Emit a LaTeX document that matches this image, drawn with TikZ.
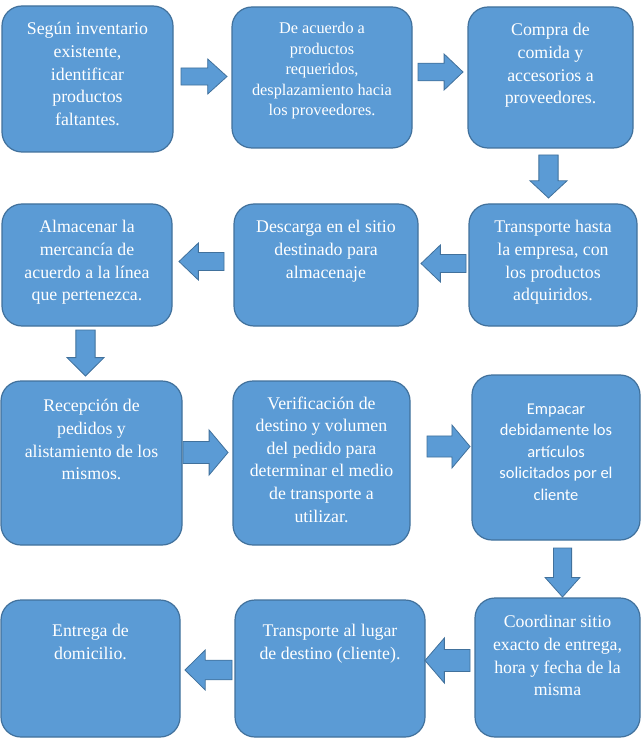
\documentclass[tikz,border=0pt]{standalone}
\usepackage{fontspec}
\setmainfont{Liberation Serif}
\newfontfamily\carlito{Carlito}
\definecolor{boxfill}{HTML}{5B9BD5}
\definecolor{boxline}{HTML}{41719C}
\tikzset{
  stepbox/.style={draw=boxline, fill=boxfill, line width=1.2pt, rounded corners=20pt, inner sep=0pt},
  steptext/.style={text=white, align=center, anchor=north, inner sep=0pt, font=\fontsize{17.8}{22.6}\selectfont},
  smalltext/.style={steptext, font=\fontsize{16.3}{20.4}\selectfont},
  calibritext/.style={steptext, font=\carlito\fontsize{16.5}{21.5}\selectfont},
  blockarrow/.style={draw=boxline, fill=boxfill, line width=0.8pt, line join=miter},
}
\newcommand\stepnode[5]{%
  \pgfmathsetmacro\snW{#4-#2}\pgfmathsetmacro\snH{#5-#3}%
  \pgfmathsetmacro\snX{(#2+#4)/2}\pgfmathsetmacro\snY{(#3+#5)/2}%
  \node[stepbox, minimum width=\snW pt, minimum height=\snH pt] (#1) at (\snX,\snY) {};}
\newcommand\arrowright[4]{%
  \pgfmathsetmacro\baC{(#2+#4)/2}\pgfmathsetmacro\baS{0.245*(#4-#2)}%
  \pgfmathsetmacro\baH{#3-0.42*(#3-#1)}%
  \pgfmathsetmacro\baU{\baC-\baS}\pgfmathsetmacro\baD{\baC+\baS}%
  \draw[blockarrow] (#1,\baU) -- (\baH,\baU) -- (\baH,#2) -- (#3,\baC) -- (\baH,#4) -- (\baH,\baD) -- (#1,\baD) -- cycle;}
\newcommand\arrowleft[4]{%
  \pgfmathsetmacro\baC{(#2+#4)/2}\pgfmathsetmacro\baS{0.245*(#4-#2)}%
  \pgfmathsetmacro\baH{#1+0.43*(#3-#1)}%
  \pgfmathsetmacro\baU{\baC-\baS}\pgfmathsetmacro\baD{\baC+\baS}%
  \draw[blockarrow] (#3,\baU) -- (\baH,\baU) -- (\baH,#2) -- (#1,\baC) -- (\baH,#4) -- (\baH,\baD) -- (#3,\baD) -- cycle;}
\newcommand\arrowdown[4]{%
  \pgfmathsetmacro\baC{(#1+#3)/2}\pgfmathsetmacro\baS{0.26*(#3-#1)}%
  \pgfmathsetmacro\baH{#4-0.4*(#4-#2)}%
  \pgfmathsetmacro\baU{\baC-\baS}\pgfmathsetmacro\baD{\baC+\baS}%
  \draw[blockarrow] (\baU,#2) -- (\baU,\baH) -- (#1,\baH) -- (\baC,#4) -- (#3,\baH) -- (\baD,\baH) -- (\baD,#2) -- cycle;}
\begin{document}
\begin{tikzpicture}[x=1pt,y=-1pt]
\fill[white] (0,0) rectangle (641,743);
\useasboundingbox (0,0) rectangle (641,743);
% row 1
\stepnode{a1}{2}{6}{173}{152}
\stepnode{a2}{232}{7}{412}{148}
\stepnode{a3}{468}{7}{633}{148}
\node[steptext] (ta1) at ([yshift=-17pt]a1.north) {Según inventario\\existente,\\identificar\\productos\\faltantes.};
\node[smalltext] (ta2) at ([yshift=-16pt]a2.north) {De acuerdo a\\productos\\requeridos,\\desplazamiento hacia\\los proveedores.};
\node[steptext] (ta3) at ([yshift=-17pt]a3.north) {Compra de\\comida y\\accesorios a\\proveedores.};
% row 2
\stepnode{b1}{2}{204}{172}{326}
\stepnode{b2}{234}{204}{418}{326}
\stepnode{b3}{469}{204}{637}{326}
\node[steptext] (tb1) at ([yshift=-17pt]b1.north) {Almacenar la\\mercancía de\\acuerdo a la línea\\que pertenezca.};
\node[steptext] (tb2) at ([yshift=-17pt]b2.north) {Descarga en el sitio\\destinado para\\almacenaje};
\node[steptext] (tb3) at ([yshift=-17pt]b3.north) {Transporte hasta\\la empresa, con\\los productos\\adquiridos.};
% row 3
\stepnode{c1}{1}{381}{182}{545}
\stepnode{c2}{233}{381}{410}{545}
\stepnode{c3}{472}{375}{640}{540}
\node[steptext] (tc1) at ([yshift=-19pt]c1.north) {Recepción de\\pedidos y\\alistamiento de los\\mismos.};
\node[steptext] (tc2) at ([yshift=-16pt]c2.north) {Verificación de\\destino y volumen\\del pedido para\\determinar el medio\\de transporte a\\utilizar.};
\node[calibritext] (tc3) at ([yshift=-29pt]c3.north) {Empacar\\debidamente los\\artículos\\solicitados por el\\cliente};
% row 4
\stepnode{e1}{1}{600}{180}{737}
\stepnode{e2}{235}{600}{425}{737}
\stepnode{e3}{475}{598}{640}{737}
\node[steptext] (te1) at ([yshift=-25pt]e1.north) {Entrega de\\domicilio.};
\node[steptext] (te2) at ([yshift=-25pt]e2.north) {Transporte al lugar\\de destino (cliente).};
\node[steptext] (te3) at ([yshift=-18pt]e3.north) {Coordinar sitio\\exacto de entrega,\\hora y fecha de la\\misma};
% block arrows
\arrowright{181}{59}{227}{94}
\arrowright{418}{54}{463}{90}
\arrowdown{530}{155}{567}{198}
\arrowleft{421}{245}{466}{282}
\arrowleft{179}{243}{224}{280}
\arrowdown{67}{330}{104}{376}
\arrowright{183}{430}{228}{475}
\arrowright{427}{425}{470}{468}
\arrowdown{545}{548}{580}{597}
\arrowleft{425}{638}{470}{683}
\arrowleft{185}{650}{232}{690}
\end{tikzpicture}
\end{document}
